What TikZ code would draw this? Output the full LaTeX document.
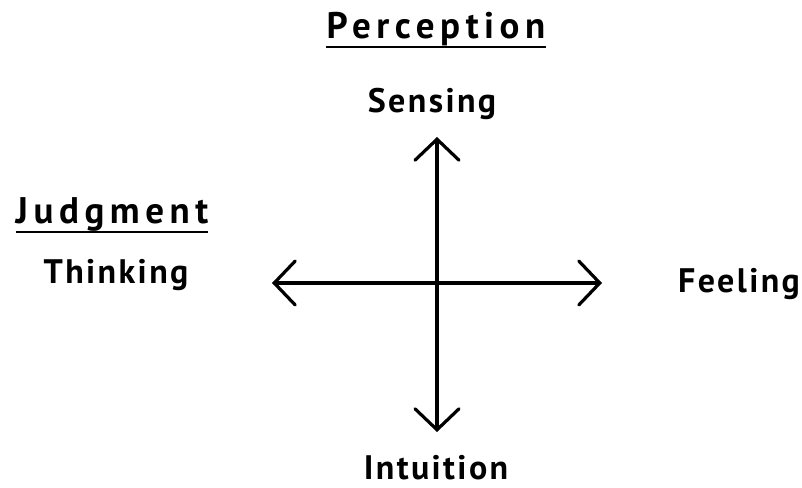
\documentclass[tikz,border=0pt]{standalone}
\usepackage{fontspec}
\newfontfamily\lblfont[LetterSpace=7]{PT Sans}
\newfontfamily\headfont[LetterSpace=15]{PT Sans}
\usetikzlibrary{arrows.meta}

\begin{document}
\begin{tikzpicture}[x=1pt, y=-1pt,
    lbl/.style={font=\lblfont\bfseries\fontsize{34}{34}\selectfont, inner sep=0pt, anchor=base, text depth=0pt},
    head/.style={font=\headfont\bfseries\fontsize{37}{37}\selectfont, inner sep=0pt, anchor=base},
    axis/.style={line width=3.2pt, line cap=round,
      {Straight Barb[length=21pt, width=44pt, line cap=round]}-{Straight Barb[length=21pt, width=44pt, line cap=round]}},
    uline/.style={line width=2pt}]
  \useasboundingbox (0,0) rectangle (802,487);
  % heading labels
  \node[head] (perc) at (436,38) {Perception};
  \node[head] (judg) at (112,223) {Judgment};
  \draw[uline] ([yshift=-9pt]perc.base west) -- ([yshift=-9pt]perc.base east);
  \draw[uline] ([yshift=-9pt]judg.base west) -- ([yshift=-9pt]judg.base east);
  % the four functions
  \node[lbl] (sens) at (432,112) {Sensing};
  \node[lbl] (intu) at (436,479) {Intuition};
  \node[lbl] (thin) at (116,283) {Thinking};
  \node[lbl] (feel) at (739,292) {Feeling};
  % axes
  \coordinate (top) at (437,137);
  \coordinate (bot) at (437,432);
  \coordinate (lft) at (272,283);
  \coordinate (rgt) at (602,283);
  \draw[axis] (bot) -- (top);
  \draw[axis] (lft) -- (rgt);
\end{tikzpicture}
\end{document}
